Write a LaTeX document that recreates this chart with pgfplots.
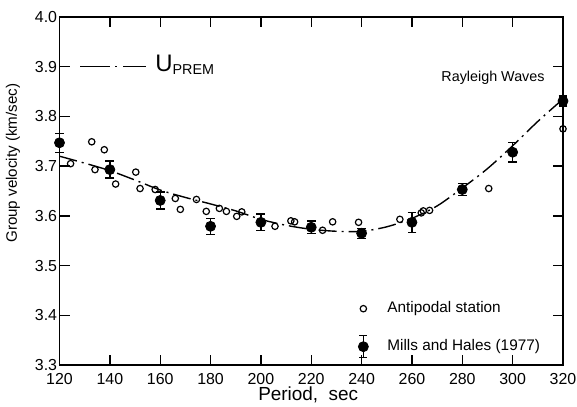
\documentclass[border=0pt]{standalone}
\usepackage{pgfplots}
\pgfplotsset{compat=1.18}
\usepackage{fontspec}
\setmainfont{Liberation Sans}

\pgfplotstableread{
x     y
124.4 3.705
132.8 3.749
134.1 3.693
137.8 3.733
142.3 3.664
150.3 3.688
152.0 3.655
158.0 3.653
166.0 3.635
168.0 3.613
174.4 3.633
178.3 3.609
183.5 3.615
186.3 3.609
190.4 3.599
192.4 3.608
205.6 3.579
211.9 3.590
213.4 3.588
224.5 3.571
228.5 3.588
238.8 3.587
255.2 3.593
263.7 3.606
264.5 3.610
267.0 3.611
290.5 3.655
320.0 3.775
}\antipodal

\pgfplotstableread{
x   y     e
120 3.747 0.019
140 3.693 0.017
160 3.631 0.017
180 3.579 0.016
200 3.587 0.017
220 3.577 0.013
240 3.565 0.010
260 3.587 0.020
280 3.653 0.012
300 3.728 0.020
320 3.831 0.010
}\millshales

\begin{document}
\begin{tikzpicture}
\useasboundingbox (-29.75bp,-21bp) rectangle (258.75bp,182.5bp);
\begin{axis}[
    at={(0,0)}, anchor=south west,
    scale only axis,
    width=251.75bp, height=174bp,
    xmin=120, xmax=320, ymin=3.3, ymax=4.0,
    xtick={120,140,160,180,200,220,240,260,280,300,320},
    ytick={3.3,3.4,3.5,3.6,3.7,3.8,3.9,4.0},
    tick align=inside,
    major tick length=5bp,
    axis line style={line width=0.8pt},
    every tick/.style={black, line width=0.7pt},
    clip=false,
    /pgf/number format/assume math mode=true,
    tick label style={font=\fontsize{8}{9}\selectfont},
    yticklabel style={/pgf/number format/fixed, /pgf/number format/fixed zerofill,
        /pgf/number format/precision=1, inner sep=1bp},
    xticklabel style={/pgf/number format/fixed, inner sep=1bp, yshift=-3bp},
    xlabel={Period,\ \ sec},
    ylabel={Group velocity (km/sec)},
    xlabel style={font=\fontsize{9.5}{11}\selectfont, at={(axis description cs:0.494,-0.085)}, anchor=center},
    ylabel style={font=\fontsize{7.6}{9}\selectfont, at={(axis description cs:-0.0924,0.58)}, anchor=center},
    legend style={draw=none, fill=none, inner sep=0pt,
        at={(rel axis cs:0.563,0.017)}, anchor=south west,
        row sep=7bp, font=\fontsize{7.7}{9}\selectfont},
    legend cell align=left,
]

\addplot[forget plot, smooth, line width=0.7pt,
    dash pattern=on 9bp off 2.5bp on 1bp off 2.5bp] coordinates {
    (120,3.720) (130,3.706) (140,3.691) (150,3.672) (160,3.652)
    (170,3.637) (180,3.624) (190,3.610) (200,3.593) (210,3.581)
    (220,3.573) (230,3.569) (240,3.569) (250,3.578) (260,3.595)
    (270,3.620) (280,3.656) (290,3.695) (300,3.741) (310,3.790)
    (320,3.835)};

\addplot[only marks, mark=o, mark size=1.6bp, mark options={line width=0.6pt, fill=white},
    legend image code/.code={
        \path[draw=none, fill=none] (0bp,-6bp) rectangle (20bp,6bp);
        \draw[line width=0.6pt, fill=white] (10bp,0bp) circle (1.6bp);}]
    table[x=x, y=y] {\antipodal};
\addlegendentry{Antipodal station}

\addplot[only marks, mark=*, mark size=2.5bp, black,
    legend image code/.code={
        \path[draw=none, fill=none] (0bp,-6bp) rectangle (20bp,6bp);
        \draw[line width=0.7pt] (10bp,-5.5bp) -- (10bp,5.5bp)
            (8bp,-5.5bp) -- (12bp,-5.5bp) (8bp,5.5bp) -- (12bp,5.5bp);
        \fill (10bp,0bp) circle (2.5bp);},
    error bars/.cd, y dir=both, y explicit,
    error bar style={line width=0.7pt},
    error mark options={rotate=90, mark size=2.2bp, line width=0.7pt}]
    table[x=x, y=y, y error=e] {\millshales};
\addlegendentry{Mills and Hales (1977)}

% U_PREM key
\draw[line width=0.7pt, dash pattern=on 15bp off 2.5bp on 1bp off 3bp]
    (axis cs:128.3,3.9) -- (axis cs:154.5,3.9);
\node[anchor=base west, inner sep=0pt] at (axis cs:157.9,3.891)
    {\fontsize{12}{12}\selectfont U\raisebox{-1.5bp}{\fontsize{7.2}{8}\selectfont PREM}};

\node[anchor=base, inner sep=0pt, font=\fontsize{7.2}{9}\selectfont]
    at (axis cs:292.2,3.871) {Rayleigh Waves};
\end{axis}
\end{tikzpicture}
\end{document}
